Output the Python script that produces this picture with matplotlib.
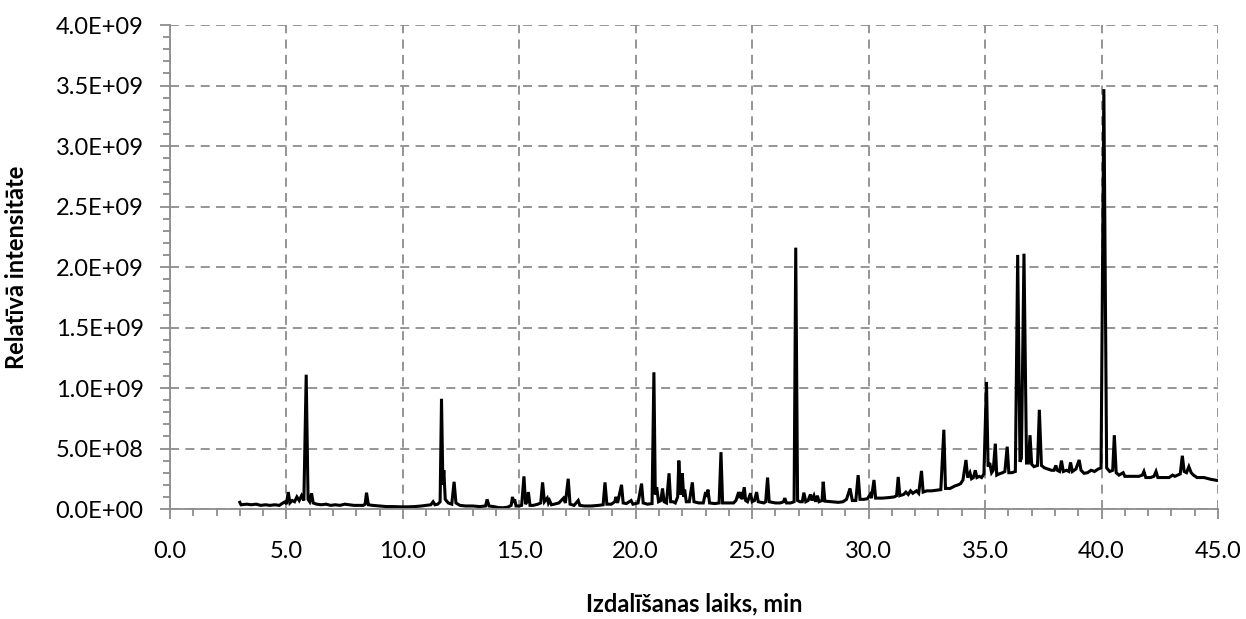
import matplotlib
matplotlib.use("Agg")
import matplotlib.pyplot as plt
from matplotlib.ticker import MultipleLocator, FuncFormatter

# retention time (min) and intensity (x 1e9)
rt = [
    3.00, 3.05, 3.3, 3.5, 3.7, 3.9, 4.1, 4.3, 4.5, 4.7, 4.85, 4.95, 5.0, 5.08, 5.15,
    5.25, 5.35, 5.45, 5.55, 5.65, 5.75, 5.85, 5.93, 6.0, 6.08, 6.15, 6.3, 6.5, 6.7,
    6.9, 7.1, 7.3, 7.5, 7.7, 7.9, 8.1, 8.3, 8.38, 8.44, 8.52, 8.7, 9.0, 9.3, 9.6,
    9.9, 10.2, 10.5, 10.8, 11.0, 11.2, 11.3, 11.38, 11.5, 11.6, 11.66, 11.72, 11.76,
    11.82, 11.95, 12.1, 12.2, 12.28, 12.45, 12.7, 13.0, 13.3, 13.55, 13.62, 13.7,
    13.9, 14.1, 14.3, 14.5, 14.65, 14.71, 14.76, 14.8, 14.86, 15.0, 15.1, 15.2,
    15.27, 15.33, 15.39, 15.46, 15.6, 15.8, 15.92, 16.0, 16.08, 16.2, 16.25, 16.3,
    16.38, 16.5, 16.7, 16.8, 16.9, 16.98, 17.1, 17.18, 17.35, 17.53, 17.6, 17.8,
    18.1, 18.4, 18.6, 18.68, 18.76, 18.95, 19.1, 19.15, 19.22, 19.39, 19.46, 19.6,
    19.8, 19.88, 20.1, 20.25, 20.32, 20.5, 20.7, 20.78, 20.84, 20.9, 20.98, 21.08,
    21.15, 21.22, 21.32, 21.43, 21.5, 21.6, 21.7, 21.8, 21.85, 21.93, 22.0, 22.06,
    22.1, 22.17, 22.3, 22.43, 22.5, 22.7, 22.9, 23.0, 23.05, 23.1, 23.17, 23.4,
    23.58, 23.66, 23.73, 24.0, 24.2, 24.3, 24.42, 24.46, 24.5, 24.57, 24.66, 24.72,
    24.8, 24.93, 25.0, 25.1, 25.19, 25.26, 25.5, 25.58, 25.66, 25.73, 26.0, 26.2,
    26.35, 26.4, 26.47, 26.65, 26.8, 26.87, 26.95, 27.05, 27.15, 27.22, 27.3, 27.4,
    27.5, 27.56, 27.65, 27.72, 27.8, 27.87, 28.0, 28.05, 28.12, 28.4, 28.7, 28.9,
    29.05, 29.2, 29.3, 29.45, 29.55, 29.63, 29.8, 29.95, 30.06, 30.12, 30.23, 30.3,
    30.6, 30.9, 31.1, 31.2, 31.27, 31.34, 31.5, 31.6, 31.7, 31.8, 31.9, 32.05,
    32.15, 32.27, 32.34, 32.5, 32.7, 32.9, 33.1, 33.23, 33.3, 33.5, 33.7, 33.85,
    33.95, 34.05, 34.18, 34.25, 34.35, 34.42, 34.5, 34.58, 34.65, 34.75, 34.85,
    34.95, 35.06, 35.13, 35.2, 35.28, 35.35, 35.44, 35.5, 35.6, 35.75, 35.85, 35.95,
    36.02, 36.15, 36.3, 36.4, 36.5, 36.56, 36.67, 36.78, 36.86, 36.93, 37.0, 37.1,
    37.25, 37.33, 37.42, 37.55, 37.7, 37.85, 37.96, 38.04, 38.1, 38.2, 38.28, 38.36,
    38.5, 38.6, 38.67, 38.75, 38.9, 39.04, 39.12, 39.25, 39.4, 39.55, 39.7, 39.85,
    39.98, 40.1, 40.22, 40.35, 40.48, 40.55, 40.63, 40.75, 40.93, 41.0, 41.3, 41.6,
    41.75, 41.82, 41.9, 42.1, 42.25, 42.34, 42.42, 42.7, 42.9, 43.05, 43.15, 43.38,
    43.47, 43.55, 43.65, 43.75, 43.85, 43.95, 44.1, 44.4, 44.7, 45.0,
]
intensity = [
    0.055, 0.035, 0.04, 0.035, 0.04, 0.03, 0.035, 0.03, 0.035, 0.03, 0.05, 0.06, 0.04, 0.14, 0.05,
    0.07, 0.06, 0.10, 0.07, 0.11, 0.07, 1.11, 0.08, 0.06, 0.13, 0.05, 0.04, 0.035, 0.04,
    0.03, 0.035, 0.03, 0.04, 0.035, 0.03, 0.03, 0.03, 0.04, 0.135, 0.035, 0.03, 0.025, 0.02, 0.02,
    0.018, 0.018, 0.02, 0.025, 0.03, 0.035, 0.06, 0.035, 0.04, 0.06, 0.91, 0.20, 0.32,
    0.08, 0.05, 0.04, 0.225, 0.05, 0.03, 0.025, 0.025, 0.02, 0.025, 0.08, 0.025,
    0.02, 0.012, 0.01, 0.015, 0.03, 0.10, 0.05, 0.08, 0.025, 0.025, 0.03, 0.27,
    0.04, 0.06, 0.14, 0.03, 0.03, 0.04, 0.05, 0.22, 0.06, 0.09, 0.05, 0.07,
    0.035, 0.04, 0.05, 0.07, 0.09, 0.05, 0.25, 0.04, 0.03, 0.07, 0.03, 0.025,
    0.025, 0.03, 0.035, 0.22, 0.04, 0.04, 0.06, 0.10, 0.05, 0.20, 0.05, 0.045,
    0.07, 0.04, 0.05, 0.21, 0.05, 0.04, 0.045, 1.13, 0.12, 0.18, 0.06, 0.07,
    0.17, 0.06, 0.05, 0.295, 0.06, 0.06, 0.05, 0.10, 0.40, 0.12, 0.295, 0.10,
    0.16, 0.06, 0.06, 0.22, 0.06, 0.05, 0.05, 0.14, 0.10, 0.16, 0.05, 0.045,
    0.05, 0.47, 0.05, 0.05, 0.05, 0.07, 0.14, 0.09, 0.14, 0.08, 0.18, 0.07,
    0.06, 0.13, 0.06, 0.07, 0.14, 0.06, 0.05, 0.06, 0.26, 0.06, 0.05, 0.05,
    0.06, 0.09, 0.05, 0.05, 0.06, 2.16, 0.07, 0.06, 0.06, 0.135, 0.06, 0.07,
    0.12, 0.07, 0.11, 0.06, 0.11, 0.06, 0.07, 0.225, 0.065, 0.06, 0.055, 0.06,
    0.08, 0.17, 0.07, 0.07, 0.28, 0.08, 0.08, 0.085, 0.12, 0.09, 0.24, 0.09,
    0.09, 0.095, 0.10, 0.11, 0.265, 0.11, 0.12, 0.14, 0.12, 0.15, 0.13, 0.15,
    0.13, 0.315, 0.14, 0.15, 0.15, 0.155, 0.16, 0.655, 0.17, 0.17, 0.19, 0.20,
    0.21, 0.24, 0.405, 0.26, 0.30, 0.25, 0.26, 0.32, 0.26, 0.27, 0.26,
    0.29, 1.05, 0.35, 0.38, 0.30, 0.32, 0.54, 0.28, 0.29, 0.30, 0.31, 0.515,
    0.30, 0.30, 0.31, 2.10, 0.39, 0.42, 2.11, 0.38, 0.38, 0.61, 0.37, 0.35,
    0.36, 0.82, 0.36, 0.34, 0.33, 0.32, 0.32, 0.36, 0.32, 0.31, 0.40, 0.31,
    0.32, 0.31, 0.385, 0.31, 0.33, 0.405, 0.32, 0.295, 0.30, 0.32, 0.31, 0.33,
    0.34, 3.47, 0.34, 0.31, 0.32, 0.61, 0.30, 0.28, 0.30, 0.27, 0.27, 0.27,
    0.28, 0.31, 0.26, 0.26, 0.27, 0.31, 0.26, 0.26, 0.26, 0.28, 0.27, 0.29,
    0.44, 0.31, 0.30, 0.35, 0.30, 0.28, 0.26, 0.26, 0.245, 0.235,
]

x_label = "Izdalīšanas laiks, min"
y_label = "Relatīvā intensitāte"

plt.rcParams['font.family'] = ['Lato', 'DejaVu Sans']

fig = plt.figure(figsize=(12.46, 6.19), dpi=100)
ax = fig.add_axes([0.1364, 0.1777, 0.8411, 0.7819])

ax.plot(rt, [v * 1e9 for v in intensity], color='black', lw=2.2, solid_joinstyle='miter')

ax.set_xlim(0, 45)
ax.set_ylim(0, 4.0e9)
ax.xaxis.set_major_locator(MultipleLocator(5))
ax.xaxis.set_minor_locator(MultipleLocator(1))
ax.yaxis.set_major_locator(MultipleLocator(0.5e9))
ax.yaxis.set_minor_locator(MultipleLocator(0.1e9))
ax.xaxis.set_major_formatter(FuncFormatter(lambda v, p: f"{v:.1f}"))
ax.yaxis.set_major_formatter(FuncFormatter(lambda v, p: f"{v:.1E}"))

grid_col = '#8c8c8c'
ax.grid(True, which='major', color=grid_col, lw=1.3, linestyle=(0, (5, 3.5)))
ax.set_axisbelow(True)
for s in ['top', 'right']:
    ax.spines[s].set_visible(False)
for s in ['left', 'bottom']:
    ax.spines[s].set_color(grid_col)
    ax.spines[s].set_linewidth(1.3)

ax.tick_params(which='major', direction='out', length=7, width=1.3, color=grid_col,
               labelsize=17, labelcolor='black', pad=12)
ax.tick_params(which='minor', direction='out', length=5, width=1.3, color=grid_col)
ax.tick_params(axis='x', which='major', pad=16)

ax.set_xlabel(x_label, fontsize=17, fontweight='bold', labelpad=22)
ax.set_ylabel(y_label, fontsize=17, fontweight='bold', labelpad=20)

fig.savefig("out.png", dpi=100)
